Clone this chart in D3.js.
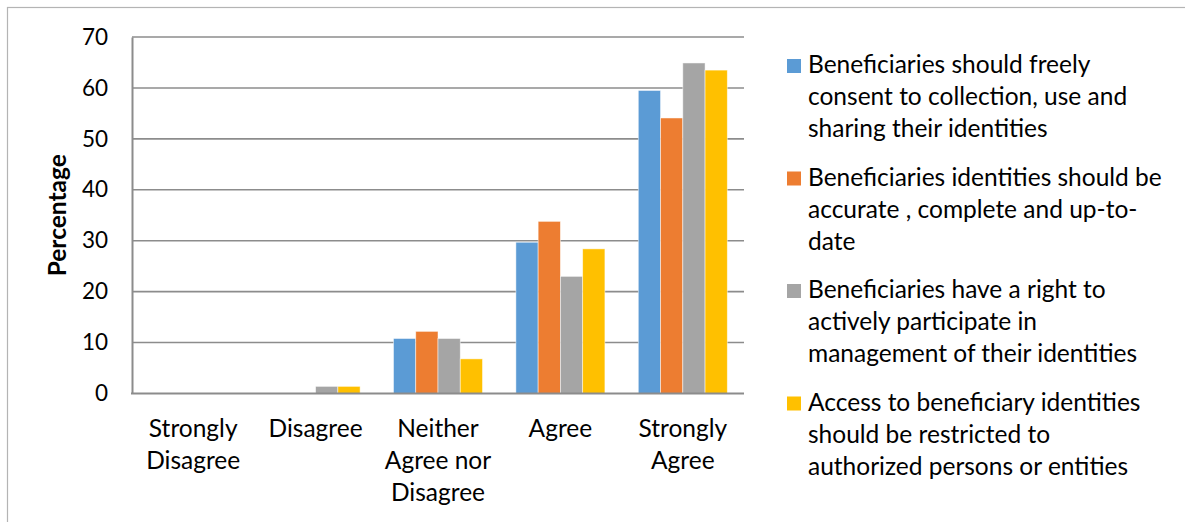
<!DOCTYPE html>
<html>
<head>
<meta charset="utf-8">
<script src="https://cdn.jsdelivr.net/npm/d3@7"></script>
<style>
  html, body { margin: 0; padding: 0; background: #fff; }
  svg { display: block; }
  text { font-family: Lato, "Open Sans", sans-serif; fill: #000; }
</style>
</head>
<body>
<svg id="chart" width="1185" height="522"></svg>
<script>
// Survey responses, percentage of respondents per answer
const categories = ["Strongly Disagree", "Disagree", "Neither Agree nor Disagree", "Agree", "Strongly Agree"];
const categoryLines = [["Strongly", "Disagree"], ["Disagree"], ["Neither", "Agree nor", "Disagree"], ["Agree"], ["Strongly", "Agree"]];
const seriesNames = [
  "Beneficiaries should freely consent to collection, use and sharing their identities",
  "Beneficiaries identities should be accurate , complete and up-to-date",
  "Beneficiaries have a right to actively participate in management of their identities",
  "Access to beneficiary identities should be restricted to authorized persons or entities"
];
const legendLines = [
  ["Beneficiaries should freely", "consent to collection, use and", "sharing their identities"],
  ["Beneficiaries identities should be", "accurate , complete and up-to-", "date"],
  ["Beneficiaries have a right to", "actively participate in", "management of their identities"],
  ["Access to beneficiary identities", "should be restricted to", "authorized persons or entities"]
];
const consentValues = [0, 0, 10.8, 29.7, 59.5];
const accurateValues = [0, 0, 12.2, 33.8, 54.1];
const participateValues = [0, 1.4, 10.8, 23.0, 64.9];
const restrictedValues = [0, 1.4, 6.8, 28.4, 63.5];
const yTicks = [0, 10, 20, 30, 40, 50, 60, 70];
const colors = ["#5b9bd5", "#ed7d31", "#a5a5a5", "#ffc000"];

const seriesValues = [consentValues, accurateValues, participateValues, restrictedValues];

const svg = d3.select("#chart");

// outer chart frame
svg.append("rect")
  .attr("x", 7.5).attr("y", 7.5)
  .attr("width", 1200).attr("height", 600)
  .attr("fill", "none").attr("stroke", "#b4b4b4").attr("stroke-width", 1.2);

const plotLeft = 132, plotRight = 744, plotTop = 37, plotBottom = 393.5;

const y = d3.scaleLinear().domain([0, 70]).range([plotBottom, plotTop]);
const x0 = d3.scaleBand().domain(categories).range([plotLeft, plotRight]).paddingInner(0).paddingOuter(0);
const bw = x0.bandwidth();
const groupW = bw * 4 / 5.5;
const x1 = d3.scaleBand().domain(d3.range(4)).range([(bw - groupW) / 2, (bw + groupW) / 2]).padding(0);

// gridlines
svg.append("g")
  .selectAll("line")
  .data(yTicks.filter(t => t > 0))
  .join("line")
  .attr("x1", plotLeft).attr("x2", plotRight)
  .attr("y1", d => y(d)).attr("y2", d => y(d))
  .attr("stroke", "#8c8c8c").attr("stroke-width", 1.6);

// bars
const groups = svg.append("g")
  .selectAll("g")
  .data(categories)
  .join("g")
  .attr("transform", d => `translate(${x0(d)},0)`);

groups.selectAll("rect")
  .data((d, ci) => seriesValues.map((vals, si) => ({ si, v: vals[ci] })))
  .join("rect")
  .attr("x", d => x1(d.si))
  .attr("width", x1.bandwidth())
  .attr("y", d => y(d.v))
  .attr("height", d => y(0) - y(d.v))
  .attr("fill", d => colors[d.si])
  .attr("stroke", d => d.v > 0 ? "rgba(255,255,255,0.6)" : "none")
  .attr("stroke-width", 0.8);

// y axis
const yAxis = d3.axisLeft(y).tickValues(yTicks).tickSize(0).tickPadding(24);
const gy = svg.append("g").attr("transform", `translate(${plotLeft},0)`).call(yAxis);
gy.select(".domain").attr("stroke", "#8c8c8c").attr("stroke-width", 2);
gy.selectAll("text").style("font-size", "22.5px").style("font-family", "Lato, sans-serif").attr("fill", "#000");

// x axis baseline
svg.append("line")
  .attr("x1", plotLeft - 1).attr("x2", plotRight)
  .attr("y1", plotBottom).attr("y2", plotBottom)
  .attr("stroke", "#8c8c8c").attr("stroke-width", 2);

// category labels
const xl = svg.append("g");
categories.forEach((c, i) => {
  const t = xl.append("text")
    .attr("x", x0(c) + bw / 2)
    .attr("y", plotBottom + 43)
    .attr("text-anchor", "middle")
    .style("font-size", "24.5px");
  categoryLines[i].forEach((line, li) => {
    t.append("tspan").attr("x", x0(c) + bw / 2).attr("dy", li === 0 ? 0 : 32).text(line);
  });
});

// y axis title
svg.append("text")
  .attr("transform", `translate(66,${(plotTop + plotBottom) / 2}) rotate(-90)`)
  .attr("text-anchor", "middle")
  .style("font-size", "24.5px")
  .style("font-weight", "bold")
  .text("Percentage");

// legend
const legend = svg.append("g");
seriesNames.forEach((name, i) => {
  const by = 73 + i * 112.5;
  const g = legend.append("g").attr("class", "legend-item").attr("data-name", name);
  g.append("rect")
    .attr("x", 787).attr("y", by - 14)
    .attr("width", 14).attr("height", 14)
    .attr("fill", colors[i]);
  const t = g.append("text").attr("x", 808).attr("y", by).style("font-size", "24.5px");
  legendLines[i].forEach((line, li) => {
    t.append("tspan").attr("x", 808).attr("dy", li === 0 ? 0 : 32).text(line);
  });
});
</script>
</body>
</html>
